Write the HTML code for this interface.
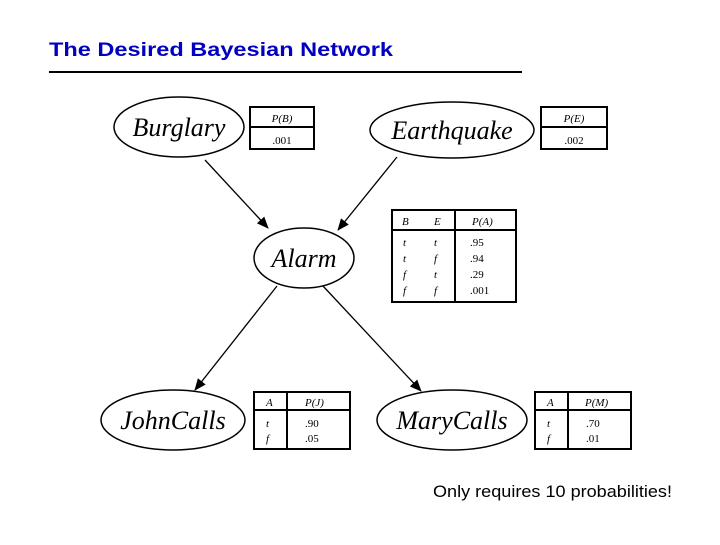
<!DOCTYPE html>
<html><head><style>body{margin:0;background:#fff}</style></head><body>
<svg width="720" height="540" viewBox="0 0 720 540" xmlns="http://www.w3.org/2000/svg">
<defs><marker id="ah" markerWidth="12" markerHeight="10" refX="11" refY="5" orient="auto" markerUnits="userSpaceOnUse"><path d="M0,0 L12,5 L0,10 z" fill="#000"/></marker></defs>
<text x="49" y="56" font-family="Liberation Sans, sans-serif" font-weight="bold" font-size="19" fill="#0000c0" textLength="344" lengthAdjust="spacingAndGlyphs">The Desired Bayesian Network</text>
<line x1="49" y1="72" x2="522" y2="72" stroke="#000" stroke-width="2"/>
<g fill="none" stroke="#000" stroke-width="1.5">
<ellipse cx="179" cy="127" rx="65" ry="30"/>
<ellipse cx="452" cy="130" rx="82" ry="28"/>
<ellipse cx="304" cy="258" rx="50" ry="30"/>
<ellipse cx="173" cy="420" rx="72" ry="30"/>
<ellipse cx="452" cy="420" rx="75" ry="30"/>
</g>
<g stroke="#000" stroke-width="1.3" marker-end="url(#ah)">
<line x1="205" y1="160" x2="268" y2="228"/>
<line x1="397" y1="157" x2="338" y2="230"/>
<line x1="277" y1="286" x2="195" y2="390"/>
<line x1="323" y1="286" x2="421" y2="391"/>
</g>
<g font-family="Liberation Serif, serif" font-style="italic" font-size="26" text-anchor="middle">
<text x="179" y="136">Burglary</text>
<text x="452" y="139">Earthquake</text>
<text x="304" y="267">Alarm</text>
<text x="173" y="429">JohnCalls</text>
<text x="452" y="429">MaryCalls</text>
</g>
<g fill="none" stroke="#000" stroke-width="2">
<rect x="250" y="107" width="64" height="42"/><line x1="250" y1="127" x2="314" y2="127"/>
<rect x="541" y="107" width="66" height="42"/><line x1="541" y1="127" x2="607" y2="127"/>
<rect x="392" y="210" width="124" height="92"/><line x1="392" y1="230" x2="516" y2="230"/><line x1="455" y1="210" x2="455" y2="302"/>
<rect x="254" y="392" width="96" height="57"/><line x1="254" y1="410" x2="350" y2="410"/><line x1="287" y1="392" x2="287" y2="449"/>
<rect x="535" y="392" width="96" height="57"/><line x1="535" y1="410" x2="631" y2="410"/><line x1="568" y1="392" x2="568" y2="449"/>
</g>
<g font-family="Liberation Serif, serif" font-size="11">
<text x="282" y="122" text-anchor="middle" font-style="italic">P(B)</text>
<text x="282" y="144" text-anchor="middle">.001</text>
<text x="574" y="122" text-anchor="middle" font-style="italic">P(E)</text>
<text x="574" y="144" text-anchor="middle">.002</text>
<g font-style="italic"><text x="402" y="225">B</text><text x="434" y="225">E</text><text x="472" y="225">P(A)</text>
<text x="403" y="246">t</text><text x="434" y="246">t</text>
<text x="403" y="262">t</text><text x="434" y="262">f</text>
<text x="403" y="278">f</text><text x="434" y="278">t</text>
<text x="403" y="294">f</text><text x="434" y="294">f</text></g>
<text x="470" y="246">.95</text><text x="470" y="262">.94</text><text x="470" y="278">.29</text><text x="470" y="294">.001</text>
<g font-style="italic"><text x="266" y="406">A</text><text x="305" y="406">P(J)</text><text x="266" y="427">t</text><text x="266" y="442">f</text>
<text x="547" y="406">A</text><text x="585" y="406">P(M)</text><text x="547" y="427">t</text><text x="547" y="442">f</text></g>
<text x="305" y="427">.90</text><text x="305" y="442">.05</text>
<text x="586" y="427">.70</text><text x="586" y="442">.01</text>
</g>
<text x="433" y="497" font-family="Liberation Sans, sans-serif" font-size="17" textLength="239" lengthAdjust="spacingAndGlyphs">Only requires 10 probabilities!</text>
</svg>
</body></html>
